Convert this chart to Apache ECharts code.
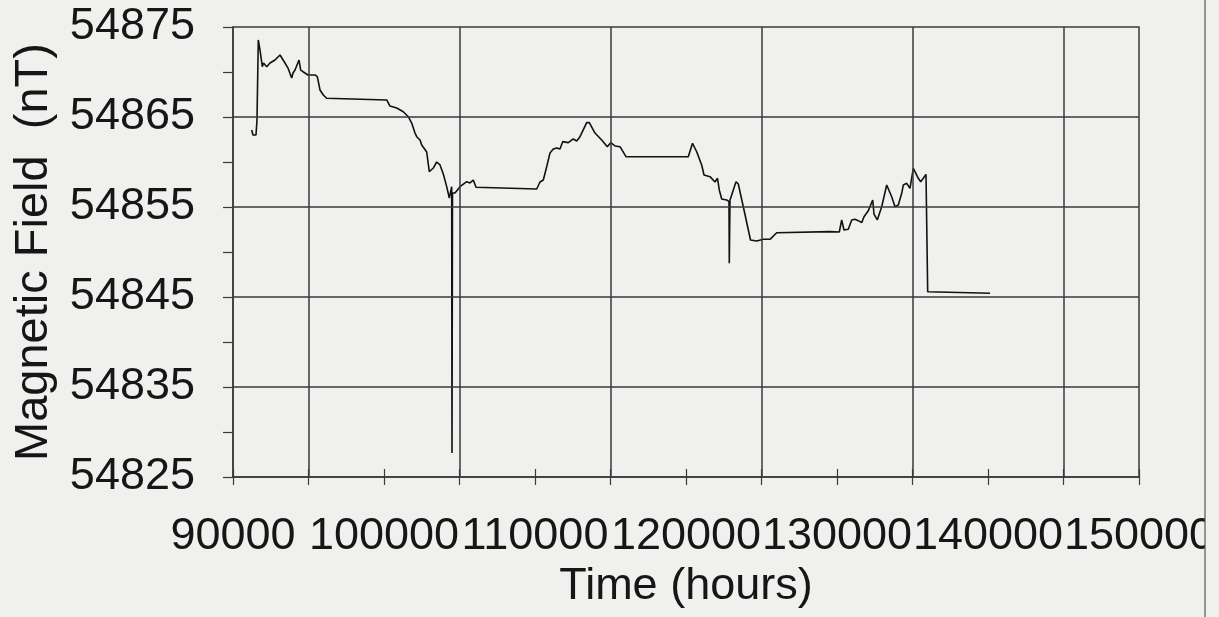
<!DOCTYPE html>
<html>
<head>
<meta charset="utf-8">
<script src="https://cdn.jsdelivr.net/npm/echarts@6/dist/echarts.min.js"></script>
<style>
html,body{margin:0;padding:0;background:#f0f0ee;}
#chart{width:1219px;height:617px;}
</style>
</head>
<body>
<div id="chart"></div>
<script>
// Time values (x axis, hhmmss-like "hours" units)
var times = [
91238, 91324, 91523, 91589, 91675, 91788, 91940, 92020, 92119, 92232,
92450, 92781, 93113, 93225, 93444, 93642, 93887, 93974, 94106, 94218,
94371, 94483, 94636, 94967, 95430, 95583, 95762, 95980, 96205, 100179,
100397, 100841, 101278, 101609, 101834, 102053, 102166, 102384, 102497, 102828,
103000, 103265, 103490, 103709, 103927, 104152, 104325, 104483, 104503, 104536,
104702, 105033, 105477, 105695, 105914, 106093, 110113, 110331, 110550, 110775,
110993, 111212, 111437, 111656, 111834, 112205, 112536, 112761, 112980, 113424,
113596, 113973, 114417, 114788, 115013, 115298, 115629, 116026, 120152, 120430,
120708, 121039, 121192, 121589, 121920, 122086, 122205, 122364, 122695, 122847,
122867, 122913, 123026, 123311, 123464, 123795, 124272, 124682, 125119, 125563,
126006, 129536, 130152, 130311, 130463, 130748, 130973, 131192, 131411, 131636,
131788, 132073, 132364, 132450, 132669, 132960, 133291, 133622, 133841, 134060,
134285, 134391, 134616, 134834, 135053, 135166, 135384, 135543, 135715, 135894,
136006, 140132
];
// Magnetic field values (nT)
var field = [
54863.56, 54863.00, 54863.00, 54864.67, 54873.56, 54872.44, 54870.59, 54871.00, 54871.00, 54870.59,
54871.00, 54871.33, 54871.89, 54871.70, 54871.00, 54870.44, 54869.33, 54869.89, 54870.22, 54870.03,
54871.33, 54870.22, 54870.03, 54869.67, 54869.67, 54869.48, 54868.00, 54867.44, 54867.08, 54866.89,
54866.22, 54866.00, 54865.59, 54865.03, 54864.33, 54863.22, 54862.81, 54862.44, 54861.89, 54861.11,
54858.92, 54859.33, 54860.00, 54859.67, 54858.67, 54857.26, 54856.00, 54857.26, 54827.67, 54856.56,
54856.56, 54857.26, 54857.81, 54857.67, 54858.00, 54857.19, 54857.00, 54857.78, 54858.00, 54859.48,
54861.00, 54861.44, 54861.56, 54861.44, 54862.26, 54862.15, 54862.56, 54862.33, 54862.81, 54864.37,
54864.37, 54863.22, 54862.44, 54861.70, 54862.15, 54861.78, 54861.70, 54860.59, 54860.59, 54862.08,
54861.14, 54859.67, 54858.56, 54858.37, 54857.78, 54858.19, 54856.89, 54855.89, 54855.78, 54855.59,
54848.74, 54855.78, 54856.33, 54857.81, 54857.56, 54855.03, 54851.33, 54851.22, 54851.41, 54851.41,
54852.14, 54852.26, 54852.22, 54853.56, 54852.44, 54852.52, 54853.56, 54853.63, 54853.48, 54853.26,
54853.92, 54854.59, 54855.78, 54854.22, 54853.56, 54855.03, 54857.44, 54856.14, 54855.03, 54855.22,
54856.52, 54857.44, 54857.63, 54857.08, 54859.30, 54858.92, 54858.19, 54857.81, 54858.19, 54858.63,
54845.59, 54845.41
];
// Axis tick label values
var xLabels = [90000, 100000, 110000, 120000, 130000, 140000, 150000];
var yLabels = [54825, 54835, 54845, 54855, 54865, 54875];
// Gridline positions
var xGrid = [95000, 105000, 115000, 125000, 135000, 145000];
var yGrid = [54835, 54845, 54855, 54865];

var FONT = '"Liberation Sans", Arial, sans-serif';
var TXT = '#161616';
var LINE = '#3a3a3a';
var BG = '#f0f0ee';

var chart = echarts.init(document.getElementById('chart'), null, {renderer: 'canvas'});
var seriesData = times.map(function (t, i) { return [t, field[i]]; });
var marks = xGrid.map(function (v) { return {xAxis: v}; })
  .concat(yGrid.map(function (v) { return {yAxis: v}; }));

chart.setOption({
  animation: false,
  backgroundColor: BG,
  grid: {
    left: 233, right: 80, top: 27, bottom: 140,
    show: true, borderColor: LINE, borderWidth: 1.5, backgroundColor: 'transparent'
  },
  xAxis: [{
    type: 'value', min: 90000, max: 150000, interval: 5000, position: 'bottom',
    name: 'Time (hours)', nameLocation: 'middle', nameGap: 80,
    nameTextStyle: {fontFamily: FONT, fontSize: 45, color: TXT},
    axisLine: {show: true, onZero: false, lineStyle: {color: LINE, width: 1.5}},
    axisTick: {show: true, inside: false, length: 8, lineStyle: {color: LINE, width: 1.2}},
    splitLine: {show: false},
    axisLabel: {
      margin: 37, fontFamily: FONT, fontSize: 45, color: TXT,
      formatter: function (v) { return xLabels.indexOf(Math.round(v)) >= 0 ? String(Math.round(v)) : ''; }
    }
  }, {
    type: 'value', min: 90000, max: 150000, interval: 5000, position: 'bottom',
    axisLine: {show: false},
    axisTick: {show: true, inside: true, length: 8, lineStyle: {color: LINE, width: 1.2}},
    axisLabel: {show: false}, splitLine: {show: false}
  }],
  yAxis: {
    type: 'value', min: 54825, max: 54875, interval: 5,
    name: 'Magnetic Field  (nT)', nameLocation: 'middle', nameGap: 175,
    nameTextStyle: {fontFamily: FONT, fontSize: 47, color: TXT},
    axisLine: {show: true, onZero: false, lineStyle: {color: LINE, width: 1.5}},
    axisTick: {show: true, inside: false, length: 10, lineStyle: {color: LINE, width: 1.2}},
    splitLine: {show: false},
    axisLabel: {
      margin: 38, fontFamily: FONT, fontSize: 45, color: TXT,
      formatter: function (v) { return yLabels.indexOf(Math.round(v)) >= 0 ? String(Math.round(v)) : ''; }
    }
  },
  series: [{
    type: 'line',
    xAxisIndex: 0,
    data: seriesData,
    showSymbol: false,
    symbol: 'none',
    lineStyle: {color: '#111', width: 1.6},
    z: 3,
    markLine: {
      silent: true,
      symbol: ['none', 'none'],
      label: {show: false},
      lineStyle: {color: LINE, width: 1.5, type: 'solid'},
      data: marks,
      animation: false
    }
  }],
  graphic: [{
    type: 'rect',
    shape: {x: 1205, y: 0, width: 14, height: 617},
    style: {fill: BG},
    z: 9
  }, {
    type: 'line',
    shape: {x1: 1205, y1: 0, x2: 1205, y2: 617},
    style: {stroke: '#555', lineWidth: 1.2},
    z: 10
  }]
});
</script>
</body>
</html>
